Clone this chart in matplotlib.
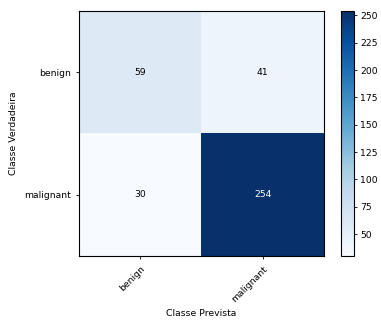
import numpy as np
import matplotlib
matplotlib.use('Agg')
import matplotlib.pyplot as plt

classes = ['benign', 'malignant']
cm = np.array([[59, 41],
               [30, 254]])

fs = 6.7

fig = plt.figure(figsize=(3.81, 3.2), dpi=100)
ax = fig.add_axes([79 / 381, 64 / 320, 245 / 381, 245 / 320])
cax = fig.add_axes([341 / 381, 64 / 320, 13 / 381, 245 / 320])

im = ax.imshow(cm, interpolation='nearest', cmap=plt.cm.Blues, aspect='auto')
cb = fig.colorbar(im, cax=cax)
cb.set_ticks(np.arange(50, 251, 25))
cb.ax.tick_params(labelsize=fs, length=2.5, width=0.6, pad=2)
cb.outline.set_linewidth(0.8)

ax.set_xticks(np.arange(len(classes)))
ax.set_yticks(np.arange(len(classes)))
ax.set_xticklabels(classes, rotation=45, ha='right', rotation_mode='anchor')
ax.set_yticklabels(classes)
ax.tick_params(labelsize=fs, length=2.5, width=0.6)
for s in ax.spines.values():
    s.set_linewidth(0.8)

thresh = cm.max() / 2.
for i in range(cm.shape[0]):
    for j in range(cm.shape[1]):
        ax.text(j, i, format(cm[i, j], 'd'), ha='center', va='center', fontsize=fs,
                color='white' if cm[i, j] > thresh else 'black')

ax.set_ylabel('Classe Verdadeira', fontsize=fs)
ax.set_xlabel('Classe Prevista', fontsize=fs)

fig.savefig('out.png', dpi=100)
